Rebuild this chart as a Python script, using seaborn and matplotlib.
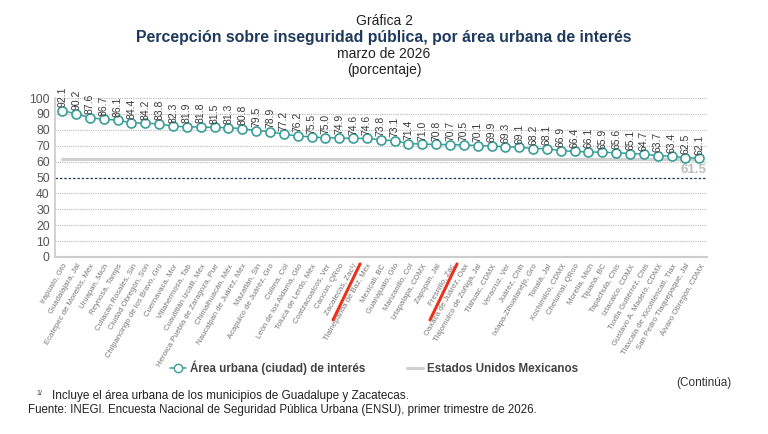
import seaborn as sns
import matplotlib.pyplot as plt
import matplotlib.transforms as mtransforms
from matplotlib.lines import Line2D

# Data
ciudades = [
    "Irapuato, Gto", "Guadalajara, Jal", "Ecatepec de Morelos, Méx", "Uruapan, Mich",
    "Reynosa, Tamps", "Culiacán Rosales, Sin", "Ciudad Obregón, Son",
    "Chilpancingo de los Bravo, Gro", "Cuernavaca, Mor", "Villahermosa, Tab",
    "Cuautitlán Izcalli, Méx", "Heroica Puebla de Zaragoza, Pue", "Chimalhuacán, Méx",
    "Naucalpan de Juárez, Méx", "Mazatlán, Sin", "Acapulco de Juárez, Gro", "Colima, Col",
    "León de los Aldama, Gto", "Toluca de Lerdo, Méx", "Coatzacoalcos, Ver", "Cancún, QRoo",
    "Zacatecas, Zac¹/", "Tlalnepantla de Baz, Méx", "Mexicali, BC", "Guanajuato, Gto",
    "Manzanillo, Col", "Iztapalapa, CDMX", "Zapopan, Jal", "Fresnillo, Zac",
    "Oaxaca de Juárez, Oax", "Tlajomulco de Zúñiga, Jal", "Tláhuac, CDMX", "Veracruz, Ver",
    "Juárez, Chih", "Ixtapa-Zihuatanejo, Gro", "Tonalá, Jal", "Xochimilco, CDMX",
    "Chetumal, QRoo", "Morelia, Mich", "Tijuana, BC", "Tapachula, Chis", "Iztacalco, CDMX",
    "Tuxtla Gutiérrez, Chis", "Gustavo A. Madero, CDMX", "Tlaxcala de Xicohténcatl, Tlax",
    "San Pedro Tlaquepaque, Jal", "Álvaro Obregón, CDMX",
]
valores = [
    92.1, 90.2, 87.6, 86.7, 86.1, 84.4, 84.2, 83.8, 82.3, 81.9, 81.8, 81.5, 81.3, 80.8,
    79.5, 78.9, 77.2, 76.2, 75.5, 75.0, 74.9, 74.6, 74.6, 73.8, 73.1, 71.4, 71.0, 70.8,
    70.7, 70.5, 70.1, 69.9, 69.3, 69.1, 68.2, 68.1, 66.9, 66.4, 66.1, 65.9, 65.6, 65.1,
    64.7, 63.7, 63.4, 62.5, 62.1,
]
nacional = 61.5
referencia = 50
subrayadas = ["Zacatecas, Zac¹/", "Fresnillo, Zac"]

teal = "#3a9e98"
navy = "#1f3a5f"

sns.set_theme(style="white")
plt.rcParams["font.family"] = ["Liberation Sans", "DejaVu Sans"]

fig = plt.figure(figsize=(7.68, 4.34), dpi=100)
ax = fig.add_axes([0.072, 0.408, 0.849, 0.366])

pos = list(range(len(ciudades)))

# Grid lines
for yv in range(10, 101, 10):
    if yv != referencia:
        ax.axhline(yv, color="#b8b8b8", lw=0.8, ls=(0, (1, 1)), zorder=0)
ax.axhline(referencia, color=navy, lw=0.9, ls=(0, (2, 1.5)), zorder=1)

# National line
sns.lineplot(x=[pos[0], pos[-1]], y=[nacional, nacional], color="#d0d0d0", lw=2.2, ax=ax, zorder=2)
ax.text(pos[-1] + 0.5, nacional - 2.8, f"{nacional:.1f}", color="#bdbdbd", fontsize=9.5,
        fontweight="bold", ha="right", va="top")

# City series
sns.lineplot(x=pos, y=valores, color=teal, lw=1.1, marker="o", markersize=6.5,
             markerfacecolor="white", markeredgecolor=teal, markeredgewidth=1.2, ax=ax, zorder=3)

for x, v in zip(pos, valores):
    ax.text(x, v + 2.2, f"{v:.1f}", rotation=90, ha="center", va="bottom",
            fontsize=7.5, color="#3a3a3a")

ax.set_xlim(-0.5, len(ciudades) - 1 + 0.58)
ax.set_ylim(0, 100)
ax.set_yticks(range(0, 101, 10))
ax.tick_params(axis="y", labelsize=8.8, colors="#555555", length=0, pad=4)
ax.set_xticks(pos)
ax.set_xticklabels(ciudades, rotation=60, ha="right", rotation_mode="anchor",
                   fontsize=5.6, color="#777777")
ax.tick_params(axis="x", length=0, pad=4)
for s in ["top", "right"]:
    ax.spines[s].set_visible(False)
ax.spines["left"].set_color("#cccccc")
ax.spines["bottom"].set_color("#cccccc")
ax.spines["bottom"].set_linewidth(1.5)
ax.set_xlabel("")
ax.set_ylabel("")

# Red hand-drawn underlines below two labels
for nombre in subrayadas:
    i = ciudades.index(nombre)
    base = mtransforms.blended_transform_factory(ax.transData, ax.transAxes)
    t1 = base + mtransforms.ScaledTranslation(7 / 100, -7 / 100, fig.dpi_scale_trans)
    t2 = base + mtransforms.ScaledTranslation(-20 / 100, -63 / 100, fig.dpi_scale_trans)
    p1 = t1.transform((i, 0))
    p2 = t2.transform((i, 0))
    inv = fig.transFigure.inverted()
    a, b = inv.transform(p1), inv.transform(p2)
    fig.add_artist(Line2D([a[0], b[0]], [a[1], b[1]], color="#e8321e", lw=2.2,
                          solid_capstyle="round"))

# Titles
fig.text(0.5, 0.952, "Gráfica 2", ha="center", va="center", fontsize=10, color="#222222")
fig.text(0.5, 0.913, "Percepción sobre inseguridad pública, por área urbana de interés",
         ha="center", va="center", fontsize=11.4, fontweight="bold", color=navy)
fig.text(0.5, 0.876, "marzo de 2026", ha="center", va="center", fontsize=10, color="#222222")
fig.text(0.5, 0.838, "(porcentaje)", ha="center", va="center", fontsize=10, color="#222222")

# Legend
handles = [
    Line2D([], [], color=teal, lw=1.1, marker="o", markersize=6, markerfacecolor="white",
           markeredgecolor=teal),
    Line2D([], [], color="#d0d0d0", lw=2.2),
]
leg = fig.legend(handles, ["Área urbana (ciudad) de interés", "Estados Unidos Mexicanos"],
                 loc="center", bbox_to_anchor=(0.487, 0.152), ncol=2, frameon=False,
                 handlelength=1.4, handletextpad=0.3, columnspacing=3.6,
                 prop={"weight": "bold", "size": 8.4})
for t in leg.get_texts():
    t.set_color("#444444")

# Footer
fig.text(0.952, 0.117, "(Continúa)", ha="right", va="center", fontsize=8.5, color="#333333")
fig.text(0.047, 0.093, "1/", ha="left", va="center", fontsize=5, color="#333333")
fig.text(0.068, 0.087, "Incluye el área urbana de los municipios de Guadalupe y Zacatecas.",
         ha="left", va="center", fontsize=8.5, color="#222222")
fig.text(0.036, 0.056, "Fuente: INEGI. Encuesta Nacional de Seguridad Pública Urbana (ENSU), "
         "primer trimestre de 2026.", ha="left", va="center", fontsize=8.3, color="#222222")

fig.savefig("out.png", dpi=100, facecolor="white")
